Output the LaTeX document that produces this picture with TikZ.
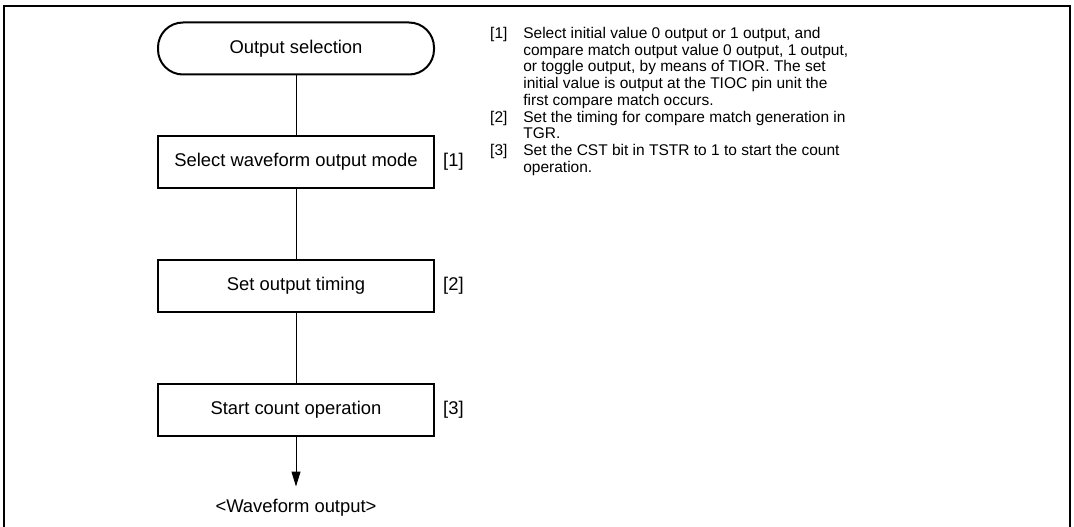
\documentclass[tikz,border=0pt]{standalone}
\usepackage{fontspec}
\setmainfont{Liberation Sans}
\usetikzlibrary{arrows.meta, positioning}

\begin{document}
\begin{tikzpicture}[
  x=1pt, y=-1pt,
  node distance=70pt,
  font=\fontsize{18.4}{21}\selectfont,
  stepbox/.style={rectangle, draw, line width=2pt, minimum width=276pt, minimum height=52pt, inner sep=0pt},
  termbox/.style={stepbox, rounded corners=25pt},
  tag/.style={right=8pt of #1, inner sep=0pt},
  key/.style={anchor=base west, inner sep=0pt, font=\fontsize{15.5}{16.7}\selectfont},
  note/.style={anchor=north west, align=left, inner sep=0pt, font=\fontsize{15.5}{16.7}\selectfont},
  line/.style={line width=1pt},
  arrow/.style={-{Triangle[length=15pt, width=9pt]}, line width=1pt}
]
\useasboundingbox (0,0) rectangle (1074,527);
\draw[line width=1.5pt] (4,527) -- (4,6) -- (1070,6) -- (1070,527);

% flow
\node[termbox] (start) at (296,48.5) {Output selection};
\node[stepbox, below=59pt of start] (mode) {Select waveform output mode};
\node[stepbox, below=of mode] (timing) {Set output timing};
\node[stepbox, below=of timing] (count) {Start count operation};
\node[below=62pt of count, inner sep=0pt] (wave) {<Waveform output>};
\coordinate (tip) at ([yshift=12pt]wave.north);

\node[tag=mode] (t1) {[1]};
\node[tag=timing] (t2) {[2]};
\node[tag=count] (t3) {[3]};

\draw[line] (start) -- (mode);
\draw[line] (mode) -- (timing);
\draw[line] (timing) -- (count);
\draw[arrow] (count) -- (tip);

% notes
\node[key] (k1) at (490,38.5) {[1]};
\node[note] (n1) at ([xshift=15.5pt]k1.north east) {Select initial value 0 output or 1 output, and\\
  compare match output value 0 output, 1 output,\\
  or toggle output, by means of TIOR. The set\\
  initial value is output at the TIOC pin unit the\\
  first compare match occurs.};
\node[key] (k2) at (490,122) {[2]};
\node[note] (n2) at ([xshift=15.5pt]k2.north east) {Set the timing for compare match generation in\\TGR.};
\node[key] (k3) at (490,155.4) {[3]};
\node[note] (n3) at ([xshift=15.5pt]k3.north east) {Set the CST bit in TSTR to 1 to start the count\\operation.};
\end{tikzpicture}
\end{document}
